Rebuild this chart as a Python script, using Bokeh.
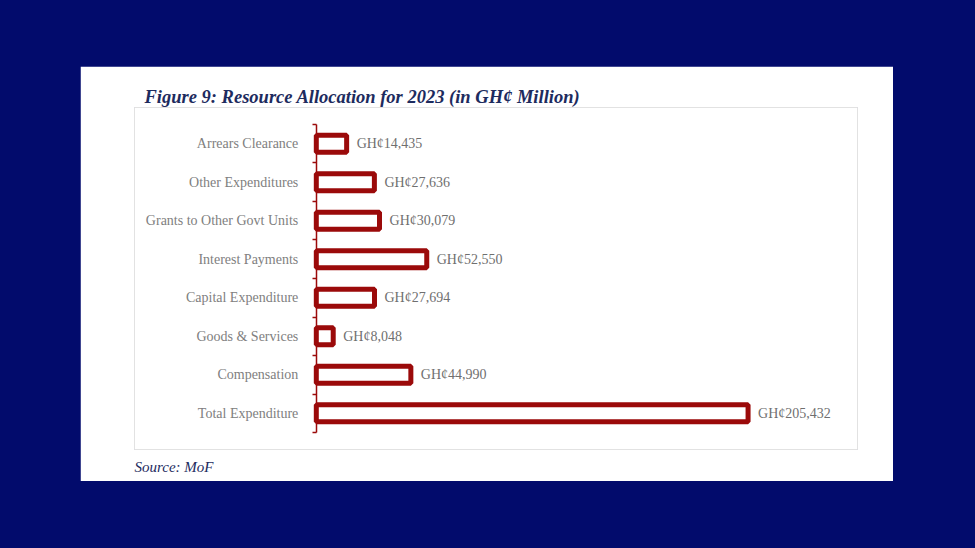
from bokeh.plotting import figure
from bokeh.models import ColumnDataSource, Range1d, FixedTicker, Title, LabelSet
from bokeh.embed import file_html
from bokeh.resources import INLINE

categories = ["Total Expenditure", "Compensation", "Goods & Services", "Capital Expenditure",
              "Interest Payments", "Grants to Other Govt Units", "Other Expenditures", "Arrears Clearance"]
values = [205432, 44990, 8048, 27694, 52550, 30079, 27636, 14435]
value_labels = ["GH\u00a2{:,}".format(v) for v in values]

NAVY = "#020b6c"
RED = "#9b0a0a"
SERIF = "Liberation Serif"

positions = list(range(1, len(categories) + 1))
src = ColumnDataSource(dict(y=positions, v=values, lab=value_labels, zero=[0] * len(values)))

p = figure(width=813, height=415, output_backend="svg", toolbar_location=None,
           x_range=Range1d(-86500, 257500), y_range=Range1d(0.06, 8.94),
           x_axis_location=None, margin=(66, 0, 0, 80),
           min_border_left=54, min_border_right=36, min_border_top=41, min_border_bottom=31)
p.background_fill_color = "white"
p.border_fill_color = "white"
p.outline_line_color = "#e2e2e2"
p.outline_line_width = 1
p.xgrid.visible = False
p.ygrid.visible = False

p.hbar(y="y", left="zero", right="v", height=0.44, source=src,
       fill_color="white", line_color=RED, line_width=5)

labels = LabelSet(x="v", y="y", text="lab", source=src, x_offset=10, y_offset=0,
                  text_baseline="middle", text_align="left", text_font=SERIF,
                  text_font_size="14px", text_color="#6f6f6f")
p.add_layout(labels)

ax = p.yaxis[0]
ax.fixed_location = 0
ax.ticker = FixedTicker(ticks=positions, minor_ticks=[i + 0.5 for i in range(0, len(categories) + 1)])
ax.major_label_overrides = {i: c for i, c in zip(positions, categories)}
ax.bounds = (0.5, len(categories) + 0.5)
ax.axis_line_color = RED
ax.axis_line_width = 1.5
ax.major_tick_in = 0
ax.major_tick_out = 0
ax.minor_tick_in = 0
ax.minor_tick_out = 4
ax.minor_tick_line_color = RED
ax.minor_tick_line_width = 1.5
ax.major_label_text_font = SERIF
ax.major_label_text_font_size = "14px"
ax.major_label_text_color = "#808080"
ax.major_label_standoff = 14

p.title.text = "Figure 9: Resource Allocation for 2023 (in GH\u00a2 Million)"
p.title.text_font = SERIF
p.title.text_font_style = "bold italic"
p.title.text_font_size = "18.5px"
p.title.text_color = "#1d2b5e"
p.title.align = "left"
p.title.offset = 10
p.title.standoff = 2

src_title = Title(text="Source: MoF", align="left", text_font=SERIF, text_font_style="italic",
                  text_font_size="15px", text_color="#1d2b5e", offset=0, standoff=14)
p.add_layout(src_title, "below")

html = file_html(p, INLINE)
html = html.replace("</head>", "<style>body{background:%s;}</style></head>" % NAVY, 1)
open("out.html", "w").write(html)
